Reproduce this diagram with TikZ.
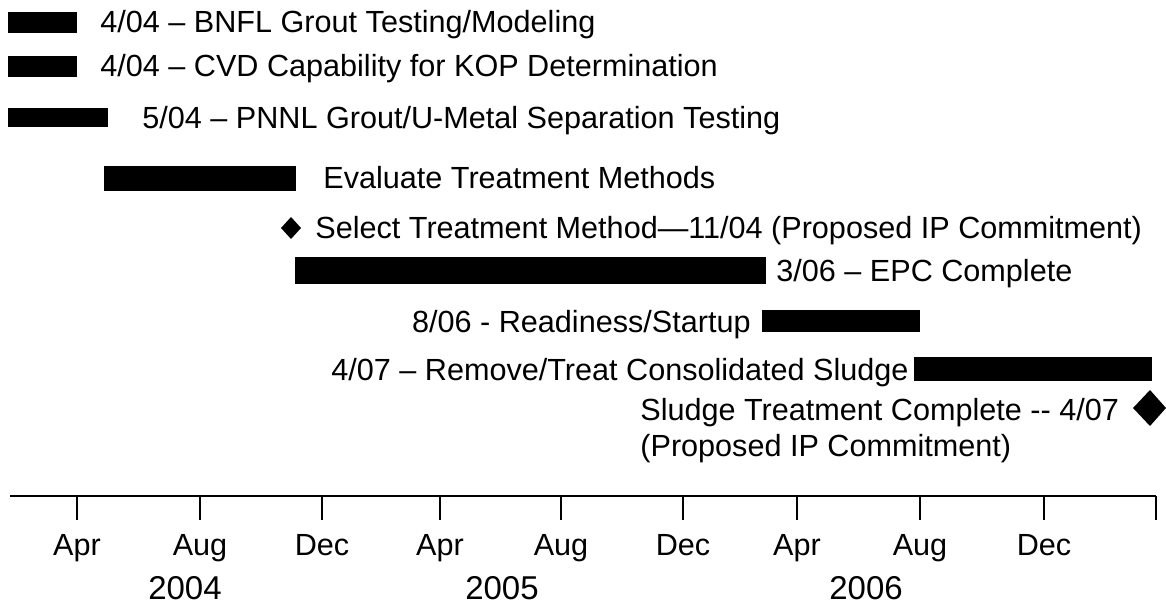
\documentclass[tikz,border=0pt]{standalone}
\usepackage{fontspec}
\setmainfont{Liberation Sans}
\tikzset{
  bar/.style={fill=black},
  lbl/.style={anchor=base west,inner sep=0pt,font=\fontsize{15.3}{17}\selectfont},
  axlbl/.style={anchor=base,inner sep=0pt,font=\fontsize{15.3}{17}\selectfont},
  yrlbl/.style={anchor=base,inner sep=0pt,font=\fontsize{16.5}{18}\selectfont},
  milestone/.style={fill=black}
}
\begin{document}
\begin{tikzpicture}[x=0.5pt,y=-0.5pt]
\useasboundingbox (0,0) rectangle (1166,604);
% bars
\fill[bar] (8,12) rectangle (77,33);
\fill[bar] (8,56) rectangle (77,77);
\fill[bar] (8,108) rectangle (108,127);
\fill[bar] (104,166) rectangle (296,191);
\fill[bar] (295,257) rectangle (766,284);
\fill[bar] (762,310) rectangle (920,332);
\fill[bar] (914,357) rectangle (1152,381);
% milestones
\fill[milestone] (291,217) -- (301,228) -- (291,239) -- (281,228) -- cycle;
\fill[milestone] (1150,390) -- (1166,408) -- (1150,426) -- (1133,408) -- cycle;
% labels
\node[lbl] (bnfl) at (100,33) {4/04 -- BNFL Grout Testing/Modeling};
\node[lbl] (cvd) at (100,77) {4/04 -- CVD Capability for KOP Determination};
\node[lbl] (pnnl) at (142,129) {5/04 -- PNNL Grout/U-Metal Separation Testing};
\node[lbl] (eval) at (323,189) {Evaluate Treatment Methods};
\node[lbl] (select) at (315,239) {Select Treatment Method---11/04 (Proposed IP Commitment)};
\node[lbl] (epc) at (776,281) {3/06 -- EPC Complete};
\node[lbl,anchor=base east] (ready) at (751,332) {8/06 - Readiness/Startup};
\node[lbl,anchor=base east] (remove) at (909,380) {4/07 -- Remove/Treat Consolidated Sludge};
\node[lbl] (done) at (640,420) {Sludge Treatment Complete -{}- 4/07};
\node[lbl] (doneip) at (640,456) {(Proposed IP Commitment)};
% time axis
\draw[line width=1.4pt] (10,496) -- (1156,496);
\foreach \x/\m in {77/Apr,200/Aug,322/Dec,440/Apr,561/Aug,683/Dec,797/Apr,920/Aug,1044/Dec}{
  \draw[line width=0.9pt] (\x,496) -- (\x,520);
  \node[axlbl] (m\x) at (\x,555) {\m};
}
\draw[line width=0.9pt] (1156,496) -- (1156,520);
\node[yrlbl] (y2004) at (185,599) {2004};
\node[yrlbl] (y2005) at (502,599) {2005};
\node[yrlbl] (y2006) at (866,599) {2006};
\end{tikzpicture}
\end{document}
